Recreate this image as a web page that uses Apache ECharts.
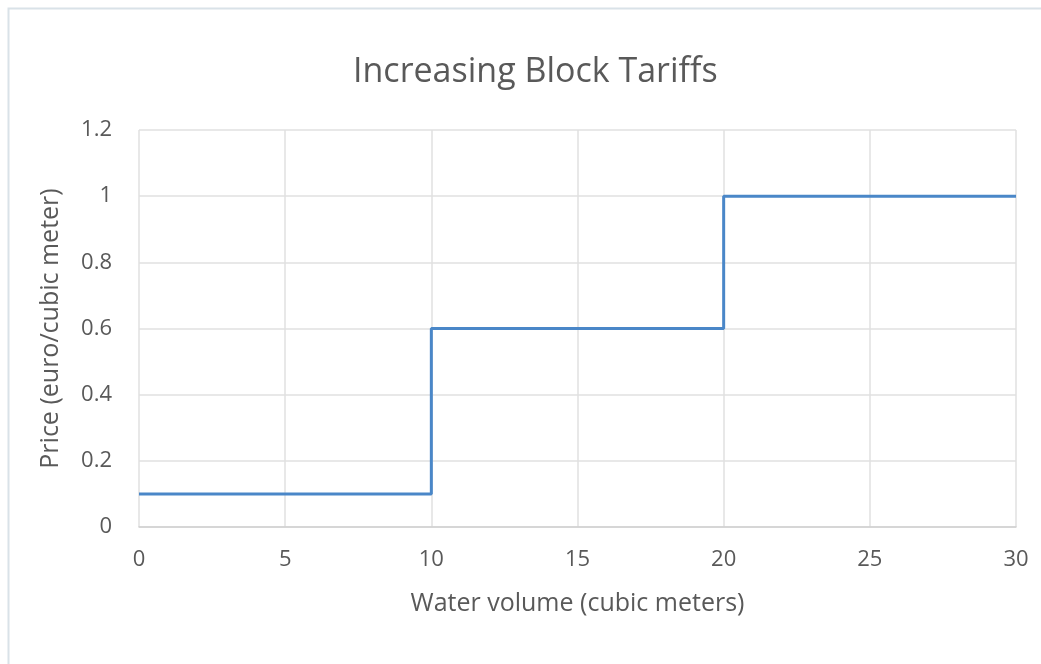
<!DOCTYPE html>
<html><head><meta charset="utf-8">
<script src="https://cdn.jsdelivr.net/npm/echarts@6/dist/echarts.min.js"></script>
<style>html,body{margin:0;padding:0;background:#fff}#c{width:1041px;height:664px}</style>
</head><body><div id="c"></div>
<script>
const volume = [0, 10, 20, 30];
const price = [0.1, 0.6, 1, 1];
const xTicks = [0, 5, 10, 15, 20, 25, 30];
const yTicks = [0, 0.2, 0.4, 0.6, 0.8, 1, 1.2];

const chart = echarts.init(document.getElementById('c'));
const font = '"Open Sans", "Noto Sans", sans-serif';
chart.setOption({
  animation: false,
  backgroundColor: '#fff',
  graphic: [{type:'rect', shape:{x:8.5,y:8.5,width:1040,height:660}, style:{fill:'none', stroke:'#d9e2e8', lineWidth:2}}],
  title: {text:'Increasing Block Tariffs', left:348, top:50,
    textStyle:{fontFamily:font, fontSize:34, fontWeight:'normal', color:'#595959'}},
  grid: {left:139, right:25, top:130, bottom:137},
  xAxis: {type:'value', min:xTicks[0], max:xTicks[xTicks.length-1], interval:5,
    name:'Water volume (cubic meters)', nameLocation:'middle', nameGap:64,
    nameTextStyle:{fontFamily:font, fontSize:25, color:'#595959'},
    axisLine:{lineStyle:{color:'#cfcfcf', width:1.5}}, axisTick:{show:false},
    axisLabel:{fontFamily:font, fontSize:22, color:'#595959', margin:22},
    splitLine:{show:true, lineStyle:{color:'#e0e0e0', width:1.5}}},
  yAxis: {type:'value', min:yTicks[0], max:yTicks[yTicks.length-1], interval:0.2,
    name:'Price (euro/cubic meter)', nameLocation:'middle', nameGap:76,
    nameTextStyle:{fontFamily:font, fontSize:25, color:'#595959'},
    axisLine:{show:false}, axisTick:{show:false},
    axisLabel:{fontFamily:font, fontSize:22, color:'#595959', margin:27},
    splitLine:{show:true, lineStyle:{color:'#e0e0e0', width:1.5}}},
  series: [{type:'line', step:'end', showSymbol:false,
    data: volume.map((v,i)=>[v, price[i]]),
    lineStyle:{color:'#4a87c8', width:3}}]
});
</script></body></html>
